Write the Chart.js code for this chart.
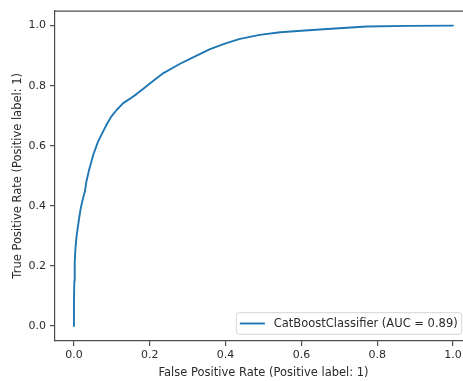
<!DOCTYPE html>
<html>
<head>
<meta charset="utf-8">
<script src="https://cdn.jsdelivr.net/npm/chart.js@4/dist/chart.umd.min.js"></script>
<style>
  html, body { margin: 0; padding: 0; background: #fff; overflow: hidden; }
  #wrap { width: 463px; height: 381px; overflow: hidden; position: relative; }
  canvas { display: block; }
</style>
</head>
<body>
<div id="wrap"><canvas id="c" width="474" height="381"></canvas></div>
<script>
// ROC curve points
const fpr = [0, 0.000, 0.001, 0.002, 0.004, 0.007, 0.010, 0.014, 0.018, 0.024, 0.029, 0.033, 0.040, 0.051, 0.063, 0.077, 0.088, 0.099, 0.113, 0.130, 0.147, 0.165, 0.183, 0.201, 0.236, 0.280, 0.306, 0.359, 0.400, 0.438, 0.490, 0.544, 0.600, 0.658, 0.772, 0.880, 1.000];
const tpr = [0, 0.080, 0.150, 0.210, 0.260, 0.300, 0.327, 0.362, 0.393, 0.425, 0.449, 0.482, 0.520, 0.570, 0.612, 0.648, 0.675, 0.698, 0.720, 0.742, 0.756, 0.772, 0.790, 0.808, 0.842, 0.873, 0.889, 0.922, 0.941, 0.956, 0.969, 0.978, 0.983, 0.988, 0.997, 0.999, 1.000];
const seriesLabel = "CatBoostClassifier (AUC = 0.89)";
const xTicks = [0.0, 0.2, 0.4, 0.6, 0.8, 1.0];
const yTicks = [0.0, 0.2, 0.4, 0.6, 0.8, 1.0];
const xTitle = "False Positive Rate (Positive label: 1)";
const yTitle = "True Positive Rate (Positive label: 1)";

const FONT = "'DejaVu Sans', sans-serif";
const AXC = '#4d4d4d';
const TXT = '#2b2b2b';

const topSpine = {
  id: 'topSpine',
  afterDraw(chart) {
    const {ctx, chartArea: a} = chart;
    ctx.save();
    ctx.strokeStyle = AXC;
    ctx.lineWidth = 1.2;
    ctx.beginPath();
    ctx.moveTo(a.left, a.top + 0.5);
    ctx.lineTo(a.right, a.top + 0.5);
    ctx.moveTo(a.right - 0.5, a.top);
    ctx.lineTo(a.right - 0.5, a.bottom);
    ctx.stroke();
    ctx.restore();
  }
};

const insetLegend = {
  id: 'insetLegend',
  afterDraw(chart) {
    const {ctx, chartArea: a} = chart;
    const ds = chart.data.datasets[0];
    ctx.save();
    ctx.font = "11.5px " + FONT;
    const tw = ctx.measureText(ds.label).width;
    const right = a.right - 10.3;
    const bottom = a.bottom - 6.7;
    const h = 21.6;
    const w = 37.3 + tw + 4;
    const x0 = right - w, y0 = bottom - h;
    const r = 3;
    ctx.beginPath();
    ctx.moveTo(x0 + r, y0);
    ctx.lineTo(x0 + w - r, y0);
    ctx.arcTo(x0 + w, y0, x0 + w, y0 + r, r);
    ctx.lineTo(x0 + w, y0 + h - r);
    ctx.arcTo(x0 + w, y0 + h, x0 + w - r, y0 + h, r);
    ctx.lineTo(x0 + r, y0 + h);
    ctx.arcTo(x0, y0 + h, x0, y0 + h - r, r);
    ctx.lineTo(x0, y0 + r);
    ctx.arcTo(x0, y0, x0 + r, y0, r);
    ctx.closePath();
    ctx.fillStyle = 'rgba(255,255,255,0.8)';
    ctx.fill();
    ctx.strokeStyle = '#d6d6d6';
    ctx.lineWidth = 1;
    ctx.stroke();
    const cy = y0 + h / 2;
    ctx.strokeStyle = ds.borderColor;
    ctx.lineWidth = ds.borderWidth;
    ctx.beginPath();
    ctx.moveTo(x0 + 3.5, cy);
    ctx.lineTo(x0 + 28.5, cy);
    ctx.stroke();
    ctx.fillStyle = TXT;
    ctx.textBaseline = 'middle';
    ctx.textAlign = 'left';
    ctx.fillText(ds.label, x0 + 37.3, cy + 0.5);
    ctx.restore();
  }
};

new Chart(document.getElementById('c'), {
  type: 'scatter',
  data: {
    datasets: [{
      label: seriesLabel,
      data: fpr.map((v, i) => ({x: v, y: tpr[i]})),
      showLine: true,
      borderColor: '#1f77b4',
      backgroundColor: '#1f77b4',
      borderWidth: 1.9,
      pointRadius: 0,
      tension: 0,
      borderJoinStyle: 'round',
      borderCapStyle: 'round'
    }]
  },
  options: {
    responsive: false,
    animation: false,
    layout: { padding: { top: 8, right: 2, left: 0, bottom: 0 } },
    plugins: { legend: { display: false }, tooltip: { enabled: false } },
    scales: {
      x: {
        type: 'linear',
        min: -0.05, max: 1.05,
        afterBuildTicks: s => { s.ticks = xTicks.map(v => ({value: v})); },
        afterFit: s => { s.height = 40; },
        ticks: {
          callback: v => Number(v).toFixed(1),
          font: { family: FONT, size: 11 },
          color: TXT,
          padding: 3,
          maxRotation: 0,
          autoSkip: false
        },
        grid: { display: true, drawOnChartArea: false, drawTicks: true, tickLength: 5, color: AXC, lineWidth: 1.2 },
        border: { display: true, color: AXC, width: 1.2 },
        title: { display: true, text: xTitle, font: { family: FONT, size: 11.5 }, color: TXT, padding: { top: 0, bottom: 1 } }
      },
      y: {
        type: 'linear',
        min: -0.05, max: 1.05,
        afterBuildTicks: s => { s.ticks = yTicks.map(v => ({value: v})); },
        afterFit: s => { s.width = 55; },
        ticks: {
          callback: v => Number(v).toFixed(1),
          font: { family: FONT, size: 11 },
          color: TXT,
          padding: 4,
          autoSkip: false
        },
        grid: { display: true, drawOnChartArea: false, drawTicks: true, tickLength: 5, color: AXC, lineWidth: 1.2 },
        border: { display: true, color: AXC, width: 1.2 },
        title: { display: true, text: yTitle, font: { family: FONT, size: 11.5 }, color: TXT, padding: { top: 11, bottom: 0 } }
      }
    }
  },
  plugins: [topSpine, insetLegend]
});
</script>
</body>
</html>
